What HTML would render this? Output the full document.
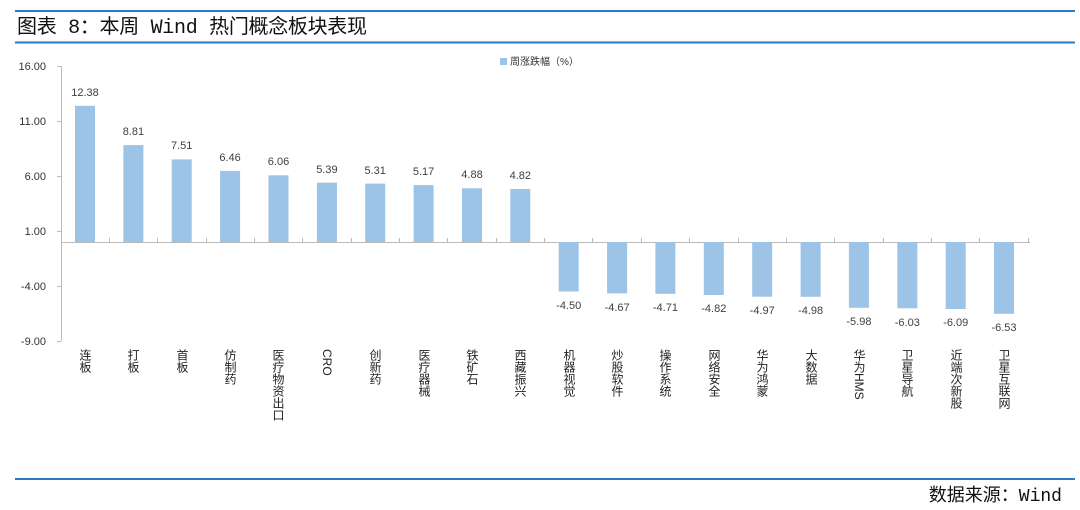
<!DOCTYPE html>
<html><head><meta charset="utf-8"><style>
body{margin:0;width:1080px;height:510px;background:#fff;overflow:hidden;position:relative;font-family:"Liberation Sans","Noto Sans CJK SC",sans-serif}
.cat{position:absolute;top:349px;writing-mode:vertical-rl;font-size:12px;line-height:14px;color:#222;width:14px;font-family:"Liberation Sans","Noto Sans CJK SC",sans-serif}
</style></head><body>
<svg width="1080" height="510" style="position:absolute;left:0;top:0" font-family="Liberation Sans, Noto Sans CJK SC, sans-serif">
<line x1="15" y1="11" x2="1075" y2="11" stroke="#2a7ac4" stroke-width="2"/>
<text x="17" y="33" font-size="20" fill="#111" font-family="Liberation Mono, Noto Sans CJK SC, monospace" textLength="350">图表 8：本周 Wind 热门概念板块表现</text>
<line x1="15" y1="42.5" x2="1075" y2="42.5" stroke="#2a7ac4" stroke-width="2"/>
<line x1="15" y1="479" x2="1075" y2="479" stroke="#2a7ac4" stroke-width="2"/>
<text x="1062" y="501" font-size="18" fill="#111" text-anchor="end" font-family="Liberation Mono, Noto Sans CJK SC, monospace">数据来源：Wind</text>
<rect x="500" y="58" width="7" height="7" fill="#9dc3e6"/>
<text x="510" y="65" font-size="10" fill="#333">周涨跌幅（%）</text>
<g font-size="11" fill="#333" text-anchor="end">
<text x="46" y="70">16.00</text><text x="46" y="125">11.00</text><text x="46" y="180">6.00</text><text x="46" y="235">1.00</text><text x="46" y="290">-4.00</text><text x="46" y="345">-9.00</text>
</g>
<g stroke="#bbb" stroke-width="1">
<line x1="61.5" y1="66" x2="61.5" y2="341"/>
<line x1="57" y1="66.5" x2="61" y2="66.5"/><line x1="57" y1="121.5" x2="61" y2="121.5"/><line x1="57" y1="176.5" x2="61" y2="176.5"/><line x1="57" y1="231.5" x2="61" y2="231.5"/><line x1="57" y1="286.5" x2="61" y2="286.5"/><line x1="57" y1="341.5" x2="61" y2="341.5"/>
<line x1="61" y1="242.5" x2="1030" y2="242.5"/>
<path d="M109.5 238v4M157.5 238v4M206.5 238v4M254.5 238v4M302.5 238v4M351.5 238v4M399.5 238v4M447.5 238v4M496.5 238v4M544.5 238v4M592.5 238v4M641.5 238v4M689.5 238v4M738.5 238v4M786.5 238v4M834.5 238v4M883.5 238v4M931.5 238v4M979.5 238v4M1028.5 238v4"/>
</g>
<g fill="#9dc3e6">
<rect x="75" y="105.8" width="20" height="136.2"/>
<rect x="123.4" y="145.1" width="20" height="96.9"/>
<rect x="171.7" y="159.4" width="20" height="82.6"/>
<rect x="220.1" y="170.9" width="20" height="71.1"/>
<rect x="268.5" y="175.3" width="20" height="66.7"/>
<rect x="316.9" y="182.7" width="20" height="59.3"/>
<rect x="365.2" y="183.6" width="20" height="58.4"/>
<rect x="413.6" y="185.1" width="20" height="56.9"/>
<rect x="462" y="188.3" width="20" height="53.7"/>
<rect x="510.3" y="189" width="20" height="53"/>
<rect x="558.7" y="242" width="20" height="49.5"/>
<rect x="607.1" y="242" width="20" height="51.4"/>
<rect x="655.4" y="242" width="20" height="51.8"/>
<rect x="703.8" y="242" width="20" height="53"/>
<rect x="752.2" y="242" width="20" height="54.7"/>
<rect x="800.6" y="242" width="20" height="54.8"/>
<rect x="848.9" y="242" width="20" height="65.8"/>
<rect x="897.3" y="242" width="20" height="66.3"/>
<rect x="945.7" y="242" width="20" height="67"/>
<rect x="994" y="242" width="20" height="71.8"/>
</g>
<g font-size="11" fill="#404040" text-anchor="middle">
<text x="85" y="96">12.38</text>
<text x="133.4" y="135">8.81</text>
<text x="181.7" y="149">7.51</text>
<text x="230.1" y="161">6.46</text>
<text x="278.5" y="165">6.06</text>
<text x="326.9" y="173">5.39</text>
<text x="375.2" y="174">5.31</text>
<text x="423.6" y="175">5.17</text>
<text x="472" y="178">4.88</text>
<text x="520.3" y="179">4.82</text>
<text x="568.7" y="309">-4.50</text>
<text x="617.1" y="311">-4.67</text>
<text x="665.4" y="311">-4.71</text>
<text x="713.8" y="312">-4.82</text>
<text x="762.2" y="314">-4.97</text>
<text x="810.6" y="314">-4.98</text>
<text x="858.9" y="325">-5.98</text>
<text x="907.3" y="326">-6.03</text>
<text x="955.7" y="326">-6.09</text>
<text x="1004" y="331">-6.53</text>
</g>
</svg>
<div class="cat" style="left:78px">连板</div>
<div class="cat" style="left:126px">打板</div>
<div class="cat" style="left:175px">首板</div>
<div class="cat" style="left:223px">仿制药</div>
<div class="cat" style="left:271px">医疗物资出口</div>
<div class="cat" style="left:320px">CRO</div>
<div class="cat" style="left:368px">创新药</div>
<div class="cat" style="left:417px">医疗器械</div>
<div class="cat" style="left:465px">铁矿石</div>
<div class="cat" style="left:513px">西藏振兴</div>
<div class="cat" style="left:562px">机器视觉</div>
<div class="cat" style="left:610px">炒股软件</div>
<div class="cat" style="left:658px">操作系统</div>
<div class="cat" style="left:707px">网络安全</div>
<div class="cat" style="left:755px">华为鸿蒙</div>
<div class="cat" style="left:804px">大数据</div>
<div class="cat" style="left:852px">华为HMS</div>
<div class="cat" style="left:900px">卫星导航</div>
<div class="cat" style="left:949px">近端次新股</div>
<div class="cat" style="left:997px">卫星互联网</div>
</body></html>
